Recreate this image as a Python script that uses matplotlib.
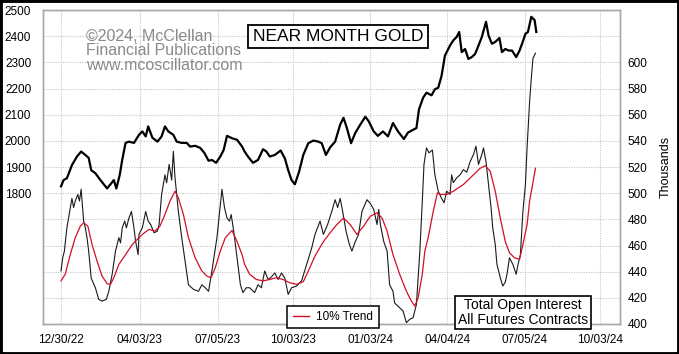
import matplotlib.pyplot as plt
import pandas as pd
from matplotlib.lines import Line2D
from matplotlib.patches import Rectangle

plt.rcParams['font.family'] = ['Liberation Sans', 'DejaVu Sans']

# --------------------------------------------------
# DATA
# --------------------------------------------------
gold_dates = [
    "2022-12-30", "2023-01-02", "2023-01-06", "2023-01-12", "2023-01-18", "2023-01-23",
    "2023-01-28", "2023-02-01", "2023-02-04", "2023-02-09", "2023-02-15", "2023-02-23",
    "2023-02-26", "2023-03-03", "2023-03-06", "2023-03-10", "2023-03-13", "2023-03-17",
    "2023-03-21", "2023-03-27", "2023-04-02", "2023-04-06", "2023-04-10", "2023-04-13",
    "2023-04-18", "2023-04-24", "2023-04-29", "2023-05-03", "2023-05-07", "2023-05-13",
    "2023-05-17", "2023-05-23", "2023-05-29", "2023-06-02", "2023-06-08", "2023-06-14",
    "2023-06-19", "2023-06-24", "2023-06-28", "2023-07-03", "2023-07-08", "2023-07-12",
    "2023-07-16", "2023-07-22", "2023-07-28", "2023-08-03", "2023-08-06", "2023-08-10",
    "2023-08-16", "2023-08-22", "2023-08-28", "2023-09-01", "2023-09-05", "2023-09-11",
    "2023-09-18", "2023-09-23", "2023-09-27", "2023-10-01", "2023-10-05", "2023-10-10",
    "2023-10-15", "2023-10-21", "2023-10-27", "2023-11-02", "2023-11-06", "2023-11-11",
    "2023-11-16", "2023-11-22", "2023-11-28", "2023-12-02", "2023-12-06", "2023-12-11",
    "2023-12-16", "2023-12-22", "2023-12-28", "2024-01-01", "2024-01-07", "2024-01-12",
    "2024-01-18", "2024-01-24", "2024-01-30", "2024-02-05", "2024-02-12", "2024-02-17",
    "2024-02-23", "2024-02-27", "2024-03-01", "2024-03-06", "2024-03-10", "2024-03-16",
    "2024-03-20", "2024-03-24", "2024-03-28", "2024-04-01", "2024-04-07", "2024-04-11",
    "2024-04-15", "2024-04-18", "2024-04-21", "2024-04-25", "2024-04-29", "2024-05-03",
    "2024-05-07", "2024-05-11", "2024-05-15", "2024-05-20", "2024-05-23", "2024-05-27",
    "2024-05-31", "2024-06-05", "2024-06-08", "2024-06-12", "2024-06-16", "2024-06-20",
    "2024-06-25", "2024-06-29", "2024-07-02", "2024-07-06", "2024-07-09", "2024-07-13",
    "2024-07-17", "2024-07-19",
]
gold_price = [
    1826, 1850, 1857, 1907, 1940, 1959,
    1946, 1935, 1888, 1876, 1850, 1818,
    1830, 1850, 1818, 1869, 1927, 1992,
    1997, 1992, 2023, 2036, 2017, 2055,
    2012, 1997, 2017, 2055, 2036, 2023,
    1997, 1992, 1992, 1978, 1981, 1973,
    1954, 1924, 1927, 1916, 1940, 1965,
    2019, 2010, 2004, 1978, 1959, 1940,
    1916, 1927, 1968, 1959, 1940, 1946,
    1963, 1933, 1888, 1850, 1834, 1882,
    1946, 1991, 2001, 1997, 1991, 1946,
    1975, 1997, 2062, 2088, 2049, 1991,
    2030, 2062, 2092, 2075, 2036, 2019,
    2036, 2017, 2068, 2036, 2007, 2032,
    2042, 2049, 2120, 2165, 2184, 2174,
    2197, 2203, 2249, 2326, 2364, 2384,
    2397, 2416, 2339, 2351, 2313, 2320,
    2332, 2364, 2397, 2455, 2403, 2371,
    2378, 2393, 2339, 2351, 2345, 2345,
    2320, 2345, 2371, 2409, 2416, 2474,
    2461, 2416,
]

oi_dates = [
    "2022-12-30", "2023-01-01", "2023-01-03", "2023-01-06", "2023-01-08", "2023-01-12",
    "2023-01-14", "2023-01-16", "2023-01-19", "2023-01-21", "2023-01-23", "2023-01-25",
    "2023-01-26", "2023-01-28", "2023-01-30", "2023-02-01", "2023-02-04", "2023-02-09",
    "2023-02-13", "2023-02-17", "2023-02-22", "2023-02-25", "2023-03-01", "2023-03-05",
    "2023-03-09", "2023-03-11", "2023-03-13", "2023-03-16", "2023-03-18", "2023-03-21",
    "2023-03-24", "2023-03-27", "2023-03-29", "2023-04-01", "2023-04-02", "2023-04-06",
    "2023-04-10", "2023-04-13", "2023-04-16", "2023-04-20", "2023-04-24", "2023-04-26",
    "2023-04-29", "2023-05-03", "2023-05-05", "2023-05-08", "2023-05-11", "2023-05-13",
    "2023-05-15", "2023-05-19", "2023-05-23", "2023-05-27", "2023-05-31", "2023-06-06",
    "2023-06-12", "2023-06-16", "2023-06-20", "2023-06-24", "2023-06-28", "2023-07-04",
    "2023-07-08", "2023-07-10", "2023-07-13", "2023-07-16", "2023-07-19", "2023-07-21",
    "2023-07-24", "2023-07-28", "2023-08-01", "2023-08-04", "2023-08-08", "2023-08-12",
    "2023-08-18", "2023-08-22", "2023-08-26", "2023-08-30", "2023-09-03", "2023-09-07",
    "2023-09-11", "2023-09-15", "2023-09-19", "2023-09-23", "2023-09-27", "2023-10-01",
    "2023-10-07", "2023-10-13", "2023-10-19", "2023-10-25", "2023-10-29", "2023-11-04",
    "2023-11-08", "2023-11-13", "2023-11-18", "2023-11-22", "2023-11-25", "2023-11-28",
    "2023-12-01", "2023-12-05", "2023-12-09", "2023-12-12", "2023-12-16", "2023-12-20",
    "2023-12-24", "2023-12-30", "2024-01-03", "2024-01-07", "2024-01-11", "2024-01-13",
    "2024-01-15", "2024-01-19", "2024-01-23", "2024-01-26", "2024-01-30", "2024-02-01",
    "2024-02-07", "2024-02-11", "2024-02-15", "2024-02-19", "2024-02-23", "2024-02-27",
    "2024-03-02", "2024-03-05", "2024-03-07", "2024-03-10", "2024-03-13", "2024-03-17",
    "2024-03-20", "2024-03-24", "2024-03-28", "2024-03-31", "2024-04-03", "2024-04-07",
    "2024-04-09", "2024-04-11", "2024-04-15", "2024-04-19", "2024-04-23", "2024-04-27",
    "2024-05-01", "2024-05-05", "2024-05-08", "2024-05-11", "2024-05-15", "2024-05-17",
    "2024-05-20", "2024-05-23", "2024-05-26", "2024-05-28", "2024-05-31", "2024-06-02",
    "2024-06-06", "2024-06-09", "2024-06-12", "2024-06-14", "2024-06-17", "2024-06-21",
    "2024-06-25", "2024-06-27", "2024-06-30", "2024-07-03", "2024-07-06", "2024-07-08",
    "2024-07-09", "2024-07-11", "2024-07-13", "2024-07-15", "2024-07-18",
]
oi_thousands = [
    440.5, 450.6, 455.7, 473.5, 481.0, 496.0,
    489.0, 494.0, 499.0, 494.0, 503.0, 486.0,
    478.6, 473.5, 466.0, 455.7, 435.0, 427.7,
    418.8, 417.5, 418.8, 425.0, 438.0, 455.7,
    466.0, 462.0, 473.5, 478.6, 473.5, 481.0,
    486.0, 473.5, 463.0, 453.0, 468.5, 473.5,
    486.0, 478.6, 476.0, 469.7, 471.0, 476.0,
    499.0, 514.0, 508.0, 522.0, 510.0, 532.0,
    511.7, 486.0, 466.0, 448.0, 430.0, 426.5,
    425.0, 430.0, 427.7, 425.0, 440.5, 466.0,
    491.0, 503.0, 489.0, 481.0, 478.6, 483.7,
    471.0, 450.6, 430.0, 424.0, 427.7, 427.7,
    424.0, 430.0, 427.7, 440.5, 434.0, 436.0,
    439.0, 434.0, 439.0, 435.0, 422.6, 427.7,
    429.0, 433.0, 445.6, 458.0, 468.5, 478.6,
    468.5, 476.0, 486.0, 495.0, 489.0, 496.0,
    486.0, 471.0, 460.8, 455.7, 463.0, 468.5,
    486.0, 495.0, 492.0, 487.6, 476.0, 487.6,
    476.0, 463.0, 455.7, 430.0, 425.0, 416.0,
    412.4, 410.0, 401.0, 403.6, 404.8, 415.0,
    455.0, 494.0, 522.0, 534.6, 530.8, 533.0,
    514.0, 501.5, 496.0, 492.6, 501.5, 499.0,
    514.0, 508.0, 511.7, 514.0, 518.0, 516.0,
    524.0, 529.5, 535.9, 522.0, 529.5, 534.6,
    524.0, 506.6, 489.0, 473.5, 460.8, 445.6,
    435.4, 429.0, 432.0, 438.0, 450.6, 445.6,
    438.0, 445.0, 453.0, 486.0, 506.6, 535.0,
    547.0, 570.0, 587.5, 603.0, 607.0,
]

trend_dates = [
    "2022-12-30", "2023-01-04", "2023-01-10", "2023-01-16", "2023-01-22", "2023-01-26",
    "2023-01-31", "2023-02-05", "2023-02-11", "2023-02-17", "2023-02-23", "2023-02-27",
    "2023-03-03", "2023-03-09", "2023-03-17", "2023-03-25", "2023-03-31", "2023-04-06",
    "2023-04-14", "2023-04-21", "2023-04-27", "2023-05-03", "2023-05-09", "2023-05-15",
    "2023-05-19", "2023-05-25", "2023-05-31", "2023-06-08", "2023-06-16", "2023-06-22",
    "2023-06-27", "2023-07-02", "2023-07-08", "2023-07-14", "2023-07-22", "2023-07-28",
    "2023-08-03", "2023-08-06", "2023-08-12", "2023-08-20", "2023-08-28", "2023-09-05",
    "2023-09-13", "2023-09-21", "2023-09-29", "2023-10-07", "2023-10-15", "2023-10-21",
    "2023-10-29", "2023-11-08", "2023-11-16", "2023-11-24", "2023-12-02", "2023-12-10",
    "2023-12-18", "2023-12-26", "2024-01-03", "2024-01-11", "2024-01-17", "2024-01-23",
    "2024-01-30", "2024-02-07", "2024-02-15", "2024-02-21", "2024-02-25", "2024-02-29",
    "2024-03-05", "2024-03-08", "2024-03-12", "2024-03-18", "2024-03-23", "2024-03-26",
    "2024-04-03", "2024-04-11", "2024-04-23", "2024-05-05", "2024-05-13", "2024-05-19",
    "2024-05-25", "2024-05-31", "2024-06-06", "2024-06-12", "2024-06-17", "2024-06-23",
    "2024-06-29", "2024-07-03", "2024-07-08", "2024-07-11", "2024-07-18",
]
trend_thousands = [
    433.0, 438.0, 453.0, 466.0, 474.8, 477.3,
    474.8, 460.8, 448.0, 436.6, 430.8, 430.3,
    435.4, 445.6, 453.0, 460.8, 464.7, 468.5,
    472.3, 471.0, 474.8, 483.7, 494.0, 501.5,
    496.4, 483.7, 466.0, 450.6, 440.5, 436.6,
    435.4, 443.0, 455.7, 466.0, 471.5, 463.0,
    453.0, 445.6, 438.0, 434.0, 433.0, 434.0,
    435.4, 434.0, 431.5, 430.3, 432.3, 440.5,
    452.0, 463.0, 469.7, 476.0, 481.0, 476.0,
    468.5, 474.8, 482.4, 485.0, 481.0, 471.0,
    453.0, 438.0, 425.0, 417.5, 413.7, 420.0,
    438.0, 455.7, 466.0, 486.0, 500.3, 499.0,
    499.0, 501.5, 506.6, 514.0, 519.0, 521.0,
    516.8, 501.5, 481.0, 463.0, 454.4, 450.6,
    449.4, 460.8, 476.0, 494.0, 519.0,
]

tick_dates = ["2022-12-30", "2023-04-03", "2023-07-05", "2023-10-03",
              "2024-01-03", "2024-04-04", "2024-07-05", "2024-10-03"]
tick_labels = ["12/30/22", "04/03/23", "07/05/23", "10/03/23",
               "01/03/24", "04/04/24", "07/05/24", "10/03/24"]

gold_ticks = list(range(1400, 2501, 100))
oi_ticks = list(range(400, 601, 20))

# --------------------------------------------------
# FIGURE
# --------------------------------------------------
W, H = 679, 354
fig = plt.figure(figsize=(W / 100, H / 100), dpi=100)
ax = fig.add_axes([43 / W, 30 / H, 577 / W, 314 / H])
ax2 = ax.twinx()

red = "#d0102a"
grid_gray = "#c4c4c4"
spine_gray = "#a8a8a8"

ax.plot(pd.to_datetime(gold_dates), gold_price, color="black", lw=1.6, zorder=3)
ax2.plot(pd.to_datetime(oi_dates), oi_thousands, color="#1a1a1a", lw=0.8)
ax2.plot(pd.to_datetime(trend_dates), trend_thousands, color=red, lw=0.9)

ax.set_xlim(pd.Timestamp("2022-12-08 12:00"), pd.Timestamp("2024-10-26 20:00"))
ax.set_xticks(pd.to_datetime(tick_dates))
ax.set_xticklabels(tick_labels)

ax.set_ylim(1300, 2500)
ax.set_yticks(gold_ticks)
ax.set_yticklabels([str(v) if v >= 1800 else "" for v in gold_ticks])

ax2.set_ylim(400, 640)
ax2.set_yticks(oi_ticks)
ax2.set_ylabel("Thousands", fontsize=9, labelpad=9)

ax.grid(True, color=grid_gray, linestyle=(0, (1, 1.2)), linewidth=0.8)
ax.set_axisbelow(True)

ax.tick_params(axis="x", length=0, pad=7, labelsize=8.5)
ax.tick_params(axis="y", length=0, pad=8.5, labelsize=8.5)
ax2.tick_params(axis="y", length=0, pad=5.5, labelsize=8.5)
for a in (ax, ax2):
    for sp in a.spines.values():
        sp.set_color(spine_gray)
        sp.set_linewidth(1.0)

# --------------------------------------------------
# TEXT BOXES
# --------------------------------------------------
fig.text(86 / W, 1 - 29 / H,
         "\u00a92024, McClellan\nFinancial Publications\nwww.mcoscillator.com",
         ha="left", va="top", fontsize=11.5, color="#8a8a8a", linespacing=0.95)

fig.text(338 / W, 1 - 36.5 / H, "NEAR MONTH GOLD", ha="center", va="center",
         fontsize=12.5,
         bbox=dict(boxstyle="square,pad=0.25", fc="white", ec="black", lw=1.3))

fig.text(523 / W, 1 - 312.5 / H, "Total Open Interest\nAll Futures Contracts",
         ha="center", va="center", multialignment="center", fontsize=10,
         linespacing=1.0,
         bbox=dict(boxstyle="square,pad=0.2", fc="white", ec="black", lw=1.2))

leg = fig.legend(handles=[Line2D([], [], color=red, lw=1.0)], labels=["10% Trend"],
                 loc="center", bbox_to_anchor=(333 / W, 1 - 317 / H),
                 fontsize=8.5, frameon=True, fancybox=False, framealpha=1,
                 edgecolor="black", handlelength=1.4, handletextpad=0.6,
                 borderpad=0.45)
leg.get_frame().set_linewidth(1.1)

# outer black frame
fig.patches.append(Rectangle((0, 0), 1, 1, transform=fig.transFigure,
                             fill=False, ec="black", lw=3.5))

fig.savefig("out.png", dpi=100)
